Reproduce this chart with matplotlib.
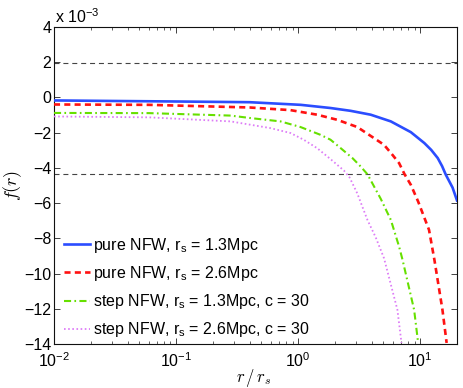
import matplotlib
matplotlib.use("Agg")
import matplotlib.pyplot as plt
from matplotlib.ticker import MultipleLocator, LogLocator, NullFormatter

plt.rcParams['font.family'] = ['Liberation Sans', 'DejaVu Sans']
plt.rcParams['axes.unicode_minus'] = True

# ---- data (f values in units of 1e-3) ----
blue_r = [0.01, 0.03, 0.1, 0.4, 1.05, 1.84, 2.69, 3.93, 5.74, 8.37, 10.8, 12.3, 13.9, 15.1, 16.2, 18.4, 20.0]
blue_f = [-0.17, -0.20, -0.23, -0.27, -0.42, -0.60, -0.76, -0.98, -1.36, -1.97, -2.59, -2.98, -3.44, -3.90, -4.39, -5.12, -5.85]

red_r = [0.01, 0.06, 0.4, 0.865, 1.43, 2.09, 3.05, 4.18, 5.05, 5.92, 6.71, 7.45, 8.37, 9.61, 11.8, 13.06, 15.2, 16.45]
red_f = [-0.40, -0.42, -0.57, -0.72, -0.98, -1.27, -1.68, -2.31, -2.69, -3.26, -3.73, -4.37, -4.96, -5.91, -7.52, -9.22, -12.06, -13.94]

green_r = [0.01, 0.06, 0.28, 0.406, 0.716, 1.045, 1.52, 1.84, 2.23, 2.78, 3.25, 3.70, 4.75, 5.74, 6.71, 7.16, 8.91, 9.61]
green_f = [-0.88, -0.89, -1.03, -1.17, -1.36, -1.68, -2.12, -2.40, -2.88, -3.44, -3.92, -4.37, -5.76, -6.95, -8.47, -9.22, -12.06, -13.94]

purple_r = [0.01, 0.06, 0.28, 0.406, 0.592, 0.865, 1.11, 1.43, 1.84, 2.37, 2.64, 3.05, 3.69, 4.32, 5.05, 6.50, 7.02]
purple_f = [-1.08, -1.13, -1.36, -1.55, -1.74, -2.02, -2.40, -2.88, -3.50, -4.15, -4.55, -5.45, -6.95, -7.95, -9.13, -12.06, -13.94]

hlines_f = [1.93, -4.37]

labels = [r'pure NFW, r$_{\mathdefault{s}}$ = 1.3Mpc',
          r'pure NFW, r$_{\mathdefault{s}}$ = 2.6Mpc',
          r'step NFW, r$_{\mathdefault{s}}$ = 1.3Mpc, c = 30',
          r'step NFW, r$_{\mathdefault{s}}$ = 2.6Mpc, c = 30']

xlim = (0.01, 20)
ylim = (-14, 4)

fig = plt.figure(figsize=(4.63, 3.88), dpi=100)
ax = fig.add_axes([54/463, 1-344/388, (457-54)/463, (344-27)/388])

for yv in hlines_f:
    ax.axhline(yv, color='#444444', lw=0.8, dashes=(4.5, 3.5), zorder=1)

ax.plot(blue_r, blue_f, color='#2b4dff', lw=1.9, label=labels[0], zorder=3)
ax.plot(red_r, red_f, color='#ff1111', lw=1.9, dashes=(2.3, 1.6), label=labels[1], zorder=3)
ax.plot(green_r, green_f, color='#66e000', lw=1.5, dashes=(3.4, 1.6, 0.8, 1.6), label=labels[2], zorder=3)
ax.plot(purple_r, purple_f, color='#dd7cf7', lw=1.3, dashes=(0.9, 1.4), label=labels[3], zorder=3)

ax.set_xscale('log')
ax.set_xlim(*xlim)
ax.set_ylim(*ylim)
ax.yaxis.set_major_locator(MultipleLocator(2))
ax.xaxis.set_major_locator(LogLocator(base=10, numticks=10))
ax.xaxis.set_minor_locator(LogLocator(base=10, subs=range(2, 10), numticks=20))
ax.xaxis.set_minor_formatter(NullFormatter())

ax.tick_params(which='both', direction='in', top=True, right=True, labelsize=11.5, color='#222222')
ax.tick_params(which='major', length=4.5, width=0.6)
ax.tick_params(which='minor', length=2.5, width=0.5)
ax.tick_params(axis='y', pad=2)
ax.tick_params(axis='x', pad=5.5)
for s in ax.spines.values():
    s.set_linewidth(0.8)
    s.set_color('#111111')

leg = ax.legend(loc='upper left', bbox_to_anchor=(0.025, 0.342), frameon=False,
                fontsize=11.5, borderpad=0, borderaxespad=0, handlelength=1.6,
                handletextpad=0.2, labelspacing=0.58)

fig.text(55/463, 1-23/388, r'x 10$^{\mathdefault{-3}}$', ha='left', va='baseline', fontsize=11.5)
fig.text(254/463, 1-378/388, r'$r\,/\,r_s$', ha='center', va='center', fontsize=12, math_fontfamily='cm')
fig.text(12.5/463, 1-185/388, r'$f(r)$', ha='center', va='center', rotation=90, fontsize=13, math_fontfamily='cm')

fig.savefig('out.png', dpi=100)
